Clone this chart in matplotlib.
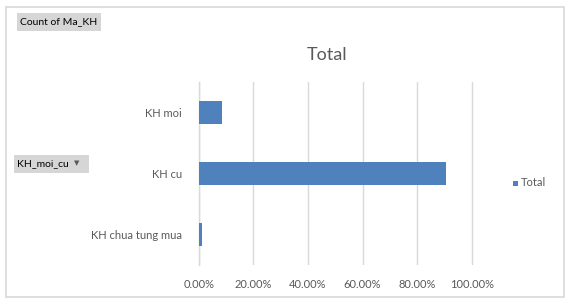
import matplotlib
matplotlib.use("Agg")
import matplotlib.pyplot as plt
from matplotlib.patches import Rectangle
from matplotlib.ticker import FuncFormatter

plt.rcParams["font.family"] = ["Lato", "DejaVu Sans"]

categories = ["KH chua tung mua", "KH cu", "KH moi"]
values = [0.012, 0.905, 0.084]
xticks = [0.0, 0.2, 0.4, 0.6, 0.8, 1.0]
series_name = "Total"

W, H = 571, 301
fig = plt.figure(figsize=(W / 100, H / 100), dpi=100)
fig.patch.set_facecolor("white")


def px_rect(l, t, r, b, **kw):
    fig.add_artist(Rectangle((l / W, 1 - b / H), (r - l) / W, (b - t) / H,
                             transform=fig.transFigure, **kw))


# outer border
px_rect(6, 7, 564, 297, fill=False, edgecolor="#d9d9d9", linewidth=1.2)

x0, x1 = 198.7, 471.7
xmax = 1.03
ax = fig.add_axes([x0 / W, 1 - 265 / H, (x1 - x0) * xmax / W, (265 - 82) / H])
y = list(range(len(categories)))
ax.barh(y, values, height=0.39, color="#4f81bd", zorder=3, label=series_name)
ax.set_xlim(0, xmax)
ax.set_ylim(-0.5, len(categories) - 0.5)
ax.set_xticks(xticks)
ax.xaxis.set_major_formatter(FuncFormatter(lambda v, p: f"{v*100:.2f}%"))
ax.set_yticks(y)
ax.set_yticklabels(categories)
ax.grid(axis="x", color="#d9d9d9", linewidth=1.0, zorder=0)
for s in ["top", "right", "bottom"]:
    ax.spines[s].set_visible(False)
ax.spines["left"].set_color("#d9d9d9")
ax.spines["left"].set_linewidth(1.0)
ax.tick_params(axis="both", length=0, labelsize=8, labelcolor="#595959")
ax.tick_params(axis="x", pad=10)
ax.tick_params(axis="y", pad=12)

fig.text(327 / W, 1 - 55 / H, "Total", ha="center", va="center",
         fontsize=13, color="#595959")

# field buttons
px_rect(17, 13, 101, 31, facecolor="#d6d6d6", edgecolor="none")
fig.text(20 / W, 1 - 22 / H, "Count of Ma_KH", ha="left", va="center",
         fontsize=7.5, color="#000000")
px_rect(14, 155, 89, 173, facecolor="#d6d6d6", edgecolor="none")
fig.text(17 / W, 1 - 164 / H, "KH_moi_cu", ha="left", va="center",
         fontsize=7.5, color="#000000")
fig.text(77 / W, 1 - 163 / H, "\u25bc", ha="center", va="center",
         fontsize=5, color="#595959", family="DejaVu Sans")

# legend
px_rect(513, 181, 518, 186, facecolor="#4f81bd", edgecolor="none")
fig.text(521 / W, 1 - 183 / H, series_name, ha="left", va="center",
         fontsize=8, color="#595959")

fig.savefig("out.png", dpi=100, facecolor="white")
